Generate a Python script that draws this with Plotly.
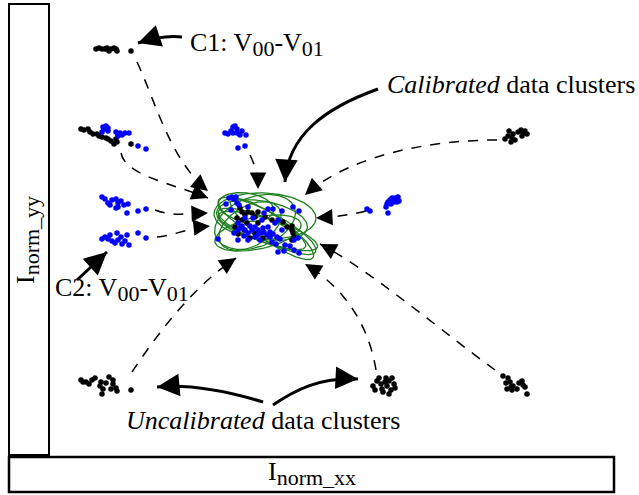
import math
import plotly.graph_objects as go

# ---------------- data: cluster points (picture units) ----------------
c1_black = [(96,49),(99,48),(102,49),(105,49),(107,48),(109,51),(111,49),(114,48),(116,49),(117,51),(131,51)]

c1_mix_black = [(81,129),(84,130),(88,129),(90,132),(93,134),(97,134),(99,136),(102,137),(106,138),
                (108,139),(111,141),(114,144),(117,142),(116,139),(131,144)]
c1_mix_blue = [(103,127),(106,126),(108,128),(104,129),(102,132),(108,131),(116,132),(118,134),(120,133),
               (122,135),(125,133),(129,133),(138,146),(146,149),(118,136)]

c2_blue_a = [(102,197),(105,199),(108,203),(110,205),(112,200),(116,199),(118,203),(118,207),(121,201),
             (124,205),(128,204),(127,213),(138,211),(146,209),(116,208)]
c2_blue_b = [(102,239),(105,237),(108,239),(110,235),(117,233),(112,241),(115,243),(118,240),(121,237),
             (122,244),(125,241),(127,235),(129,245),(138,233),(146,238)]

top_blue = [(225,133),(228,134),(231,131),(233,127),(235,126),(237,129),(237,133),(240,135),(242,131),
            (246,135),(238,148),(245,146),(233,133)]

right_black = [(505,139),(508,136),(509,131),(511,142),(512,138),(513,134),(515,140),(518,132),(521,130),
               (523,133),(527,134),(522,136),(525,131)]
right_blue = [(367,209),(370,211),(386,207),(388,202),(390,200),(392,198),(395,198),(398,197),(399,201),
              (394,202),(391,204),(388,213),(397,202),(387,204)]

bl_black = [(81,380),(83,382),(86,382),(89,384),(92,380),(95,378),(101,382),(100,386),(103,389),(102,394),
            (106,383),(109,377),(113,380),(113,384),(116,388),(117,391),(111,389),(131,390)]
bm_black = [(373,386),(375,390),(377,381),(379,378),(381,384),(382,389),(385,382),(386,378),(387,386),
            (389,381),(391,390),(392,378),(394,384),(395,388),(389,394),(383,392)]
br_black = [(503,376),(508,378),(510,382),(506,383),(507,389),(512,390),(513,386),(517,389),(519,383),
            (522,381),(523,385),(525,387),(527,394),(511,387)]

cal_blue = [(226,204),(229,198),(232,197),(234,199),(236,197),(237,203),(239,205),(248,207),(264,213),
            (268,209),(273,209),(282,211),(293,207),(299,211),(218,239),(234,233),(238,230),(240,228),
            (242,226),(245,230),(248,233),(252,230),(255,227),(258,230),(261,233),(264,232),(267,235),
            (270,237),(273,234),(277,237),(280,239),(268,227),(275,223),(278,220),(282,230),(248,240),
            (255,237),(238,240),(272,242),(278,252),(284,251),(294,250),(299,253),(294,240),(298,238),
            (262,220),(245,218),(253,218),(238,223),(250,226),(257,235),(263,228),(270,232),(285,245),
            (290,246),(244,236),(260,240),(276,244),(231,210)]
cal_black = [(240,208),(242,212),(245,215),(248,212),(252,213),(255,217),(242,220),(247,223),(258,223),
             (237,218),(244,230),(250,238),(235,227),(255,233),(292,226),(292,230),(293,233),(294,237),
             (292,240),(265,217),(272,220),(283,222),(287,227),(238,234),(263,238),(258,212)]

# calibrated-cluster ellipses: centre x, centre y, semi-axis a, semi-axis b, angle (deg)
ell_cx = [265, 267, 262, 246, 258, 272, 255, 268, 262, 250]
ell_cy = [216, 226, 229, 207, 233, 229, 222, 231, 220, 226]
ell_a  = [ 51,  55,  47,  28,  44,  50,  42,  52,  46,  34]
ell_b  = [ 23,  14,  12,  14,  16,  13,  25,  12,  19,  20]
ell_ang= [  3,  28,  22,   8, -12,  35, -20,  18,  10, -30]

# ---------------- figure ----------------
fig = go.Figure()

BLUE = "#0000FF"
BLACK = "#000000"
GREEN = "#1F7F1F"

# ellipses
for cx, cy, a, b, ang in zip(ell_cx, ell_cy, ell_a, ell_b, ell_ang):
    t = [i * 2 * math.pi / 120 for i in range(121)]
    r = math.radians(ang)
    xs = [cx + a * math.cos(u) * math.cos(r) - b * math.sin(u) * math.sin(r) for u in t]
    ys = [cy + a * math.cos(u) * math.sin(r) + b * math.sin(u) * math.cos(r) for u in t]
    fig.add_trace(go.Scatter(x=xs, y=ys, mode="lines", line=dict(color=GREEN, width=1.3),
                             hoverinfo="skip", showlegend=False))

def pts(lst, color):
    fig.add_trace(go.Scatter(x=[p[0] for p in lst], y=[p[1] for p in lst], mode="markers",
                             marker=dict(color=color, size=5.5, line=dict(width=0)),
                             hoverinfo="skip", showlegend=False))

for lst in [c1_black, c1_mix_black, right_black, bl_black, bm_black, br_black]:
    pts(lst, BLACK)
for lst in [c1_mix_blue, c2_blue_a, c2_blue_b, top_blue, right_blue]:
    pts(lst, BLUE)
pts(cal_black, BLACK)
pts(cal_blue, BLUE)

shapes = []
annotations = []

# frames (axis boxes)
shapes.append(dict(type="rect", xref="x", yref="y", x0=9, x1=49, y0=4, y1=455,
                   line=dict(color="black", width=2), fillcolor="rgba(0,0,0,0)"))
shapes.append(dict(type="rect", xref="x", yref="y", x0=9, x1=614, y0=457, y1=492,
                   line=dict(color="black", width=2.5), fillcolor="rgba(0,0,0,0)"))

def curve_arrow(p0, p1, p2, p3, width, dash, head_len, asize):
    shapes.append(dict(type="path", xref="x", yref="y",
                       path=f"M {p0[0]},{p0[1]} C {p1[0]},{p1[1]} {p2[0]},{p2[1]} {p3[0]},{p3[1]}",
                       line=dict(color="black", width=width, dash=dash)))
    dx, dy = p3[0] - p2[0], p3[1] - p2[1]
    n = math.hypot(dx, dy)
    tx, ty = p3[0] - dx / n * head_len, p3[1] - dy / n * head_len
    annotations.append(dict(x=p3[0], y=p3[1], ax=tx, ay=ty, xref="x", yref="y", axref="x", ayref="y",
                            text="", showarrow=True, arrowhead=2, arrowsize=asize,
                            arrowwidth=width, arrowcolor="black", standoff=0))

DASH = "10px,9px"
# dashed convergence arrows
curve_arrow((137,62), (155,100), (170,160), (208,191), 1.5, DASH, 12, 2.2)
curve_arrow((121,153), (125,175), (170,183), (208,198), 1.5, DASH, 12, 2.2)
curve_arrow((155,210), (170,216), (185,214), (208,213), 1.5, DASH, 12, 2.2)
curve_arrow((157,237), (175,235), (190,228), (210,226), 1.5, DASH, 12, 2.2)
curve_arrow((250,155), (255,165), (258,175), (258,189), 1.5, DASH, 12, 2.2)
curve_arrow((497,140), (430,140), (350,155), (305,195), 1.5, DASH, 12, 2.2)
curve_arrow((366,211), (350,215), (335,217), (316,218), 1.5, DASH, 12, 2.2)
curve_arrow((495,370), (440,330), (370,270), (320,244), 1.5, DASH, 12, 2.2)
curve_arrow((376,370), (368,320), (340,285), (305,264), 1.5, DASH, 12, 2.2)
curve_arrow((132,372), (160,330), (195,285), (236,258), 1.5, DASH, 12, 2.2)

# solid label arrows
curve_arrow((182,37), (165,35), (150,39), (138,43), 3, "solid", 16, 1.5)
curve_arrow((378,89), (325,108), (288,135), (285,182), 3, "solid", 16, 1.5)
curve_arrow((77,280), (87,271), (97,261), (107,252), 3, "solid", 16, 1.5)
curve_arrow((263,402), (230,392), (190,384), (157,387), 3, "solid", 16, 1.5)
curve_arrow((273,405), (295,390), (320,377), (358,379), 3, "solid", 16, 1.5)

FONT = dict(family="Liberation Serif, Times New Roman, serif", size=26, color="black")
SUB = '<sub><span style="font-size:22px">{}</span></sub>'

def label(x, y, text, xanchor="left", angle=0):
    annotations.append(dict(x=x, y=y, xref="x", yref="y", text=text, showarrow=False,
                            xanchor=xanchor, yanchor="middle", font=FONT, textangle=angle))

label(188, 44, "C1: V" + SUB.format("00") + "-V" + SUB.format("01"))
label(637, 84, "<i>Calibrated</i> data clusters", xanchor="right")
label(53, 289, "C2: V" + SUB.format("00") + "-V" + SUB.format("01"))
label(124, 420, "<i>Uncalibrated</i> data clusters")
label(27, 240, "I" + SUB.format("norm_yy"), xanchor="center", angle=-90)
label(312, 473, "I" + SUB.format("norm_xx"), xanchor="center")

fig.update_layout(
    width=639, height=495,
    margin=dict(l=0, r=0, t=0, b=0),
    paper_bgcolor="white", plot_bgcolor="white",
    xaxis=dict(range=[0, 639], visible=False, fixedrange=True),
    yaxis=dict(range=[495, 0], visible=False, fixedrange=True),
    shapes=shapes, annotations=annotations, showlegend=False,
)

fig.write_html("out.html", config={"displayModeBar": False})
